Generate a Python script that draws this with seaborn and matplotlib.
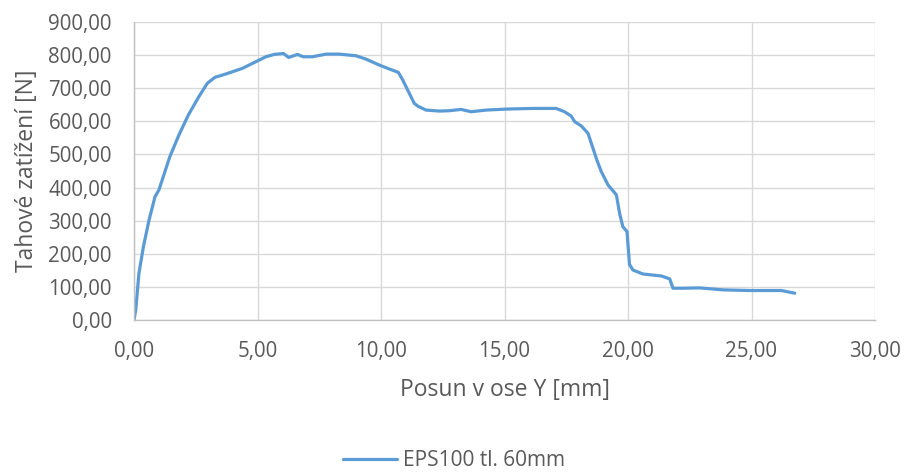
import numpy as np
import pandas as pd
import matplotlib
matplotlib.use("Agg")
import matplotlib.pyplot as plt
import seaborn as sns
from matplotlib.ticker import FuncFormatter, MultipleLocator

# values
posun = [0.0, 0.07, 0.2, 0.38, 0.61, 0.85, 1.01, 1.45, 1.82, 2.2, 2.63, 2.97, 3.28,
         3.72, 4.39, 4.93, 5.34, 5.67, 6.05, 6.26, 6.62, 6.85, 7.23, 7.77, 8.31,
         8.99, 9.39, 9.93, 10.34, 10.7, 10.88, 11.01, 11.21, 11.35, 11.49, 11.82,
         12.36, 12.77, 13.24, 13.65, 14.26, 15.07, 16.15, 17.09, 17.43, 17.7,
         17.84, 18.11, 18.38, 18.58, 18.74, 18.92, 19.19, 19.53, 19.66, 19.79,
         19.96, 20.06, 20.2, 20.6, 21.35, 21.69, 21.82, 22.22, 22.9, 23.85, 24.93,
         26.21, 26.75]
zatizeni = [0, 30, 141, 221, 302, 372, 393, 493, 559, 619, 675, 715, 733,
            743, 760, 780, 795, 802, 805, 793, 802, 795, 795, 803, 803,
            798, 788, 770, 758, 748, 725, 705, 675, 654, 646, 634,
            631, 632, 636, 629, 634, 637, 639, 639, 629, 616,
            599, 586, 564, 519, 483, 448, 408, 378, 322, 282,
            267, 168, 151, 139, 133, 124, 96, 96, 97, 91, 89,
            89, 81]
series_name = "EPS100 tl. 60mm"

df = pd.DataFrame({"x": posun, "y": zatizeni, "serie": series_name})

sns.set_theme(style="white")
plt.rcParams["font.family"] = ["Open Sans", "DejaVu Sans"]
text_c = "#595959"

fig = plt.figure(figsize=(9.08, 4.72), dpi=100)
ax = fig.add_axes([134 / 908, 1 - 320 / 472, (875 - 134) / 908, (320 - 22) / 472])

sns.lineplot(data=df, x="x", y="y", hue="serie", palette=["#5B9BD5"],
             linewidth=2.3, ax=ax, sort=False, estimator=None)

ax.set_xlim(0, 30)
ax.set_ylim(0, 900)
ax.xaxis.set_major_locator(MultipleLocator(5))
ax.yaxis.set_major_locator(MultipleLocator(100))
fmt = FuncFormatter(lambda v, p: f"{v:.2f}".replace(".", ","))
ax.xaxis.set_major_formatter(fmt)
ax.yaxis.set_major_formatter(fmt)

ax.grid(True, color="#d9d9d9", linewidth=1)
ax.set_axisbelow(True)
for s in ["top", "right"]:
    ax.spines[s].set_visible(False)
for s in ["left", "bottom"]:
    ax.spines[s].set_color("#bfbfbf")
    ax.spines[s].set_linewidth(1)

ax.tick_params(axis="both", length=0, labelsize=14.8, labelcolor=text_c)
ax.tick_params(axis="x", pad=15)
ax.tick_params(axis="y", pad=16)
ax.set_xlabel("Posun v ose Y [mm]", fontsize=16.5, color=text_c, labelpad=12)
ax.set_ylabel("Tahové zatížení [N]", fontsize=16.5, color=text_c, labelpad=7)

leg = ax.legend(loc="center", bbox_to_anchor=(454 / 908, 1 - 461 / 472),
                bbox_transform=fig.transFigure,
                frameon=False, fontsize=15, handlelength=2.6, handletextpad=0.3)
for t in leg.get_texts():
    t.set_color(text_c)

fig.savefig("out.png", dpi=100)
